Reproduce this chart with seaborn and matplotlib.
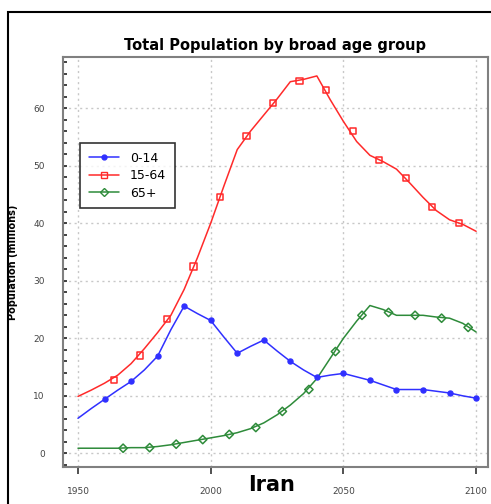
import seaborn as sns
import matplotlib.pyplot as plt
import pandas as pd
from matplotlib.lines import Line2D
from matplotlib.patches import Rectangle
from matplotlib.ticker import MultipleLocator

# Line data every 5 years, 1950-2100 (millions)
years = list(range(1950, 2101, 5))
age_0_14 = [6.1, 7.8, 9.4, 11.0, 12.5, 14.5, 16.9, 21.5, 25.6, 24.3,
            23.1, 20.2, 17.4, 18.6, 19.7, 17.8, 16.0, 14.5, 13.2, 13.6,
            13.9, 13.3, 12.7, 11.9, 11.1, 11.1, 11.1, 10.8, 10.5, 10.0, 9.6]
age_15_64 = [9.9, 11.0, 12.2, 13.6, 15.6, 18.2, 21.0, 24.0, 28.5, 34.0,
             40.0, 46.5, 52.8, 56.0, 58.8, 61.6, 64.6, 65.0, 65.6, 61.5,
             57.7, 54.2, 51.8, 50.7, 49.4, 47.0, 44.5, 42.2, 40.6, 39.8, 38.6]
age_65_plus = [0.9, 0.9, 0.9, 0.9, 1.0, 1.0, 1.2, 1.5, 1.9, 2.3,
               2.7, 3.1, 3.6, 4.3, 5.3, 6.7, 8.4, 10.4, 13.0, 16.5,
               20.0, 23.0, 25.7, 25.0, 24.0, 24.0, 24.0, 23.7, 23.5, 22.6, 21.1]

# Marker positions (the chart staggers them per series)
mk_years_0_14 = list(range(1960, 2101, 10))
mk_0_14 = [9.4, 12.5, 16.9, 25.6, 23.1, 17.4, 19.7, 16.0, 13.2, 13.9,
           12.7, 11.1, 11.1, 10.5, 9.6]
mk_years_15_64 = [y + 3.5 for y in range(1960, 2091, 10)]
mk_15_64 = [12.7, 17.0, 23.3, 32.5, 44.5, 55.1, 60.9, 64.7, 63.1, 56.0,
            51.0, 47.8, 42.8, 40.0]
mk_years_65 = [y + 7 for y in range(1960, 2091, 10)]
mk_65 = [0.9, 1.0, 1.6, 2.4, 3.3, 4.5, 7.3, 11.1, 17.7, 24.0,
         24.5, 24.0, 23.5, 21.9]

groups = ['0-14', '15-64', '65+']
colors = ['#3030ff', '#ff2a2a', '#2e8b3a']
markers = ['o', 's', 'D']
msizes = [13, 20, 18]

sns.set_style('white')
plt.rcParams['font.family'] = ['DejaVu Sans']

fig = plt.figure(figsize=(4.91, 5.04), dpi=100)
ax = fig.add_axes([0.128, 0.073, 0.866, 0.814])

df = pd.DataFrame({'year': years * 3,
                   'pop': age_0_14 + age_15_64 + age_65_plus,
                   'group': [g for g in groups for _ in years]})
sns.lineplot(data=df, x='year', y='pop', hue='group', hue_order=groups,
             palette=colors, linewidth=1.1, legend=False, ax=ax)

marks = [(mk_years_0_14, mk_0_14), (mk_years_15_64, mk_15_64),
         (mk_years_65, mk_65)]
for (mx, my), c, m, s in zip(marks, colors, markers, msizes):
    if m == 'o':
        ax.scatter(mx, my, marker=m, s=s, color=c, zorder=3)
    else:
        ax.scatter(mx, my, marker=m, s=s, facecolors='none',
                   edgecolors=c, linewidths=1.1, zorder=3)

ax.set_xlim(1944.3, 2104.5)
ax.set_ylim(-2.4, 68.9)
ax.set_xticks([1950, 2000, 2050, 2100])
ax.set_yticks(range(0, 61, 10))
ax.yaxis.set_minor_locator(MultipleLocator(2))
ax.grid(True, which='major', linestyle=(0, (1.5, 2.5)), color='#c8c8c8',
        linewidth=1)
for sp in ax.spines.values():
    sp.set_color('#808080')
    sp.set_linewidth(1.5)

ax.tick_params(axis='x', direction='out', length=5, width=1.2,
               color='#333333', labelsize=6.5, labelcolor='#444444', pad=9,
               bottom=True)
ax.tick_params(axis='y', which='major', direction='in', length=3, width=1.2,
               color='#222222', labelsize=6.5, labelcolor='#444444', pad=13,
               left=True)
ax.tick_params(axis='y', which='minor', direction='in', length=3, width=1.2,
               color='#222222', left=True)

ax.set_title('Total Population by broad age group', fontsize=10.5,
             fontweight='bold', color='black', pad=5)
ax.set_ylabel('Population (millions)', fontsize=7, fontweight='bold',
              color='black')
ax.yaxis.set_label_coords(-0.105, 0.5)
ax.set_xlabel('Iran', fontsize=15, fontweight='bold', color='black')
ax.xaxis.set_label_coords(0.49, -0.02)

handles = [Line2D([], [], color=c, marker=m, markersize=ms,
                  markerfacecolor=(c if m == 'o' else 'none'),
                  markeredgecolor=c, linewidth=1.1)
           for c, m, ms in zip(colors, markers, [3.5, 4.5, 4.5])]
leg = ax.legend(handles, groups, loc='upper left',
                bbox_to_anchor=(0.04, 0.79), fontsize=9, frameon=True,
                fancybox=False, edgecolor='black', handlelength=2.4,
                borderpad=0.7, labelspacing=0.35, handletextpad=0.9,
                borderaxespad=0)
leg.get_frame().set_linewidth(1.2)
for t in leg.get_texts():
    t.set_color('black')

# outer frame of the original panel
fig.patches.append(Rectangle((0.016, -0.1), 1.2, 1.076,
                             transform=fig.transFigure, fill=False,
                             edgecolor='black', linewidth=1.5))

fig.savefig('out.png', dpi=100)
